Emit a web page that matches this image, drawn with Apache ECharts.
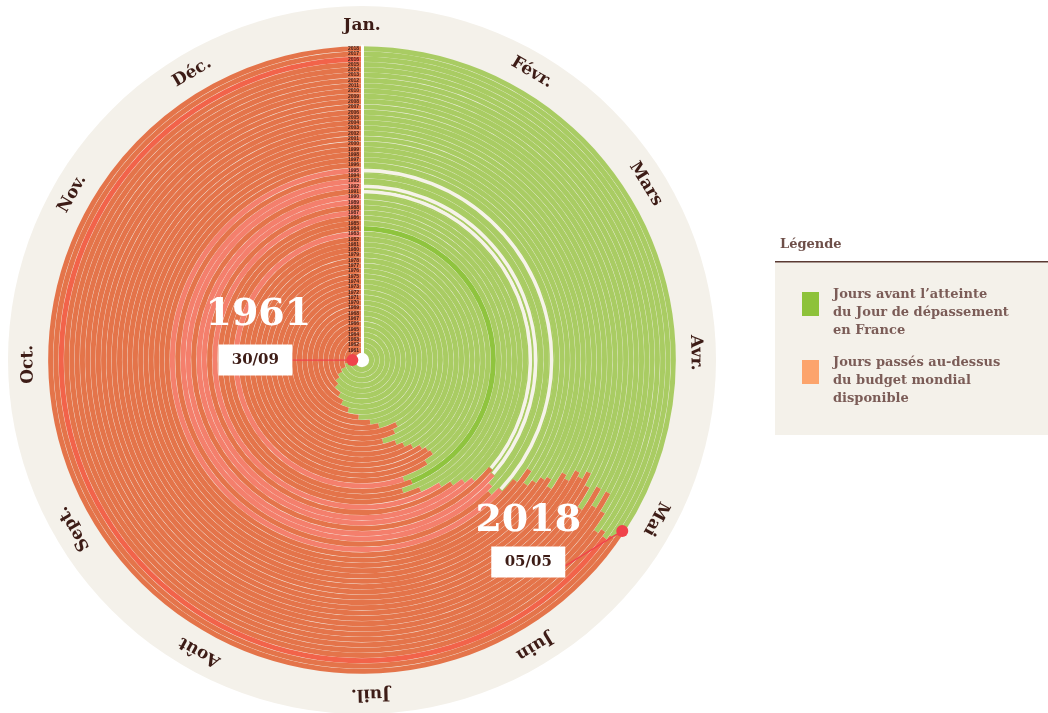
<!DOCTYPE html>
<html>
<head>
<meta charset="utf-8">
<script src="https://cdn.jsdelivr.net/npm/echarts@6/dist/echarts.min.js"></script>
<style>
  html, body { margin: 0; padding: 0; background: #ffffff; }
  #chart { width: 1048px; height: 713px; }
</style>
</head>
<body>
<div id="chart"></div>
<script>
  // années (anneaux, du centre vers l'extérieur)
  var years = [];
  for (var y = 1961; y <= 2018; y++) years.push(String(y));

  // jour de dépassement en France (jour de l'année)
  var overshootDay = [
    273, 262, 250, 243, 236, 228, 216, 208, 198, 186,
    175, 168, 154, 158, 168, 160, 156, 152, 148, 146,
    145, 150, 163, 160, 165, 158, 150, 146, 142, 139,
    132, 133, 136, 138, 135, 130, 125, 129, 127, 125,
    124, 126, 121, 122, 119, 120, 118, 121, 126, 120,
    124, 120, 124, 128, 127, 128, 127, 125
  ];
  var daysInYear = 365;

  // anneaux mis en évidence
  var lightYears = ['1983', '1987', '1989', '1990', '1992', '1993', '1995'];
  var whiteYears = ['1991', '1992', '1995'];
  var darkGreenYears = ['1984'];
  var redYears = ['2016'];

  var monthNames = ['Jan.', 'Févr.', 'Mars', 'Avr.', 'Mai', 'Juin', 'Juil.', 'Août', 'Sept.', 'Oct.', 'Nov.', 'Déc.'];
  var monthStart = [0, 31, 59, 90, 120, 151, 181, 212, 243, 273, 304, 334];

  var annotYears = ['1961', '2018'];
  var annotDates = ['30/09', '05/05'];

  var legendNames = ['Jours avant l\u2019atteinte du Jour de dépassement en France', 'Jours passés au-dessus du budget mondial disponible'];
  var legendLines = {};
  legendLines[legendNames[0]] = '\nJours avant l\u2019atteinte\ndu Jour de dépassement\nen France';
  legendLines[legendNames[1]] = '\nJours passés au-dessus\ndu budget mondial\ndisponible';

  var GREEN = '#a9cc63', ORANGE = '#e4744a', BEIGE = '#f4f1ea', DARK = '#3d1c16', RED = '#f0434b';
  var SERIF = '"DejaVu Serif", "Liberation Serif", serif';

  var greenData = years.map(function (yr, i) {
    var item = { value: overshootDay[i] };
    if (whiteYears.indexOf(yr) >= 0) item.itemStyle = { color: '#f6f3e9', borderColor: GREEN, borderWidth: 1.4 };
    else if (darkGreenYears.indexOf(yr) >= 0) item.itemStyle = { color: '#8fc43e' };
    return item;
  });
  var orangeData = years.map(function (yr, i) {
    var item = { value: daysInYear - overshootDay[i] };
    if (lightYears.indexOf(yr) >= 0) item.itemStyle = { color: '#f47f6c' };
    else if (redYears.indexOf(yr) >= 0) item.itemStyle = { color: '#f2634a' };
    return item;
  });

  var annotData = annotYears.map(function (yr) {
    return [yr, overshootDay[years.indexOf(yr)]];
  });
  // décalages des étiquettes par rapport au point (px)
  var boxShift = [[-97, 0], [-94, 31]];
  var lineEnd = [[37, 0], [37, 4]];
  var yearShift = [[-94, -45], [-94, -10]];

  var chart = echarts.init(document.getElementById('chart'));
  chart.setOption({
    animation: false,
    title: {
      text: 'Légende',
      left: 775,
      top: 233,
      textStyle: { fontFamily: SERIF, fontWeight: 'bold', fontSize: 13, color: '#6e4f49' }
    },
    graphic: [
      { type: 'rect', left: 775, top: 262, shape: { width: 273, height: 173 }, style: { fill: BEIGE }, z: -1 },
      { type: 'rect', left: 775, top: 261, shape: { width: 273, height: 1.5 }, style: { fill: '#5a3a33' } }
    ],
    legend: {
      orient: 'vertical',
      left: 802,
      top: 268,
      padding: 0,
      itemGap: -4,
      itemWidth: 17,
      itemHeight: 24,
      selectedMode: false,
      data: [
        { name: legendNames[0], icon: 'rect', itemStyle: { color: '#8dc23a' } },
        { name: legendNames[1], icon: 'rect', itemStyle: { color: '#fca46c' } }
      ],
      formatter: function (name) { return legendLines[name]; },
      textStyle: {
        fontFamily: SERIF, fontWeight: 'bold', fontSize: 13, color: '#7b5c57',
        lineHeight: 18, padding: [0, 0, 0, 9]
      }
    },
    polar: { center: [362, 360], radius: [7, 314] },
    angleAxis: {
      type: 'value', min: 0, max: daysInYear, startAngle: 90, clockwise: true,
      axisLine: { show: false }, axisTick: { show: false }, axisLabel: { show: false },
      splitLine: { show: false }
    },
    radiusAxis: {
      type: 'category', data: years, z: 5,
      axisLine: { show: true, lineStyle: { color: '#ffffff', width: 3 } },
      axisTick: { show: false },
      axisLabel: { interval: 0, fontSize: 5, fontWeight: 'bold', color: DARK, margin: 3, hideOverlap: false },
      splitLine: { show: false }
    },
    series: [
      {
        type: 'pie', silent: true, center: [362, 360], radius: [0, 354], z: 0,
        label: { show: false }, labelLine: { show: false },
        data: [{ value: 1, itemStyle: { color: BEIGE } }]
      },
      {
        type: 'pie', silent: true, center: [362, 360], radius: [0, 7], z: 1,
        label: { show: false }, labelLine: { show: false },
        data: [{ value: 1, itemStyle: { color: '#ffffff' } }]
      },
      {
        name: legendNames[0], type: 'bar', coordinateSystem: 'polar', stack: 'jours',
        barCategoryGap: '6%', itemStyle: { color: GREEN }, z: 2, data: greenData
      },
      {
        name: legendNames[1], type: 'bar', coordinateSystem: 'polar', stack: 'jours',
        barCategoryGap: '6%', itemStyle: { color: ORANGE }, z: 2, data: orangeData
      },
      {
        // mois autour du cercle
        type: 'custom', coordinateSystem: 'polar', silent: true, z: 3,
        data: monthStart.map(function (d) { return [years[years.length - 1], d]; }),
        renderItem: function (params, api) {
          var cs = params.coordSys;
          var p = api.coord([api.value(0), api.value(1)]);
          var dx = p[0] - cs.cx, dy = p[1] - cs.cy;
          var len = Math.sqrt(dx * dx + dy * dy) || 1;
          var R = cs.r + 20;
          var ang = Math.atan2(dx, -dy);
          return {
            type: 'text',
            x: cs.cx + dx / len * R,
            y: cs.cy + dy / len * R,
            rotation: -ang,
            style: {
              text: monthNames[params.dataIndex],
              fontFamily: SERIF, fontWeight: 'bold', fontSize: 17, fill: DARK,
              align: 'center', verticalAlign: 'middle'
            }
          };
        }
      },
      {
        // points 1961 / 2018 avec année et date
        type: 'custom', coordinateSystem: 'polar', silent: true, z: 10,
        data: annotData,
        renderItem: function (params, api) {
          var k = params.dataIndex;
          var p = api.coord([api.value(0), api.value(1)]);
          var bx = p[0] + boxShift[k][0], by = p[1] + boxShift[k][1];
          return {
            type: 'group',
            children: [
              {
                type: 'line',
                shape: { x1: bx + lineEnd[k][0], y1: by + lineEnd[k][1], x2: p[0], y2: p[1] },
                style: { stroke: RED, lineWidth: 1.2 }
              },
              {
                type: 'rect',
                shape: { x: bx - 37, y: by - 15.5, width: 74, height: 31 },
                style: { fill: '#ffffff' }
              },
              {
                type: 'text', x: bx, y: by,
                style: {
                  text: annotDates[k], fontFamily: SERIF, fontWeight: 'bold', fontSize: 15,
                  fill: DARK, align: 'center', verticalAlign: 'middle'
                }
              },
              {
                type: 'text', x: p[0] + yearShift[k][0], y: p[1] + yearShift[k][1],
                style: {
                  text: annotYears[k], fontFamily: SERIF, fontWeight: 'bold', fontSize: 38,
                  fill: '#ffffff', align: 'center', verticalAlign: 'middle'
                }
              },
              {
                type: 'circle', shape: { cx: p[0], cy: p[1], r: 6 },
                style: { fill: RED }
              }
            ]
          };
        }
      }
    ]
  });
</script>
</body>
</html>
